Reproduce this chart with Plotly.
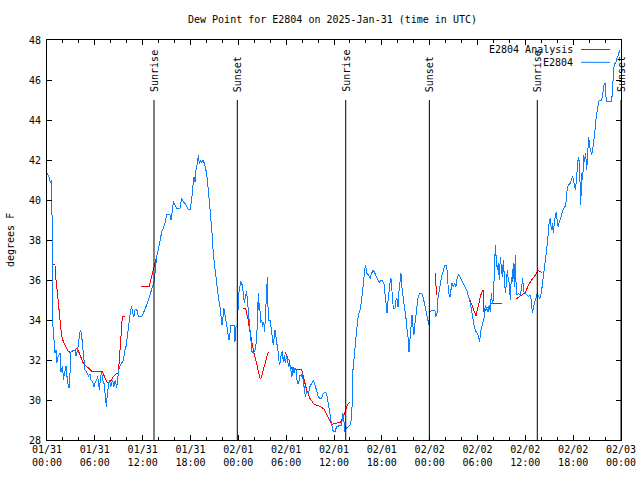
import pandas as pd
import plotly.graph_objects as go

START = pd.Timestamp("2025-01-31 00:00")
END = pd.Timestamp("2025-02-03 00:00")

# Observed dew point (E2804): hours since 01/31 00:00 UTC, degrees F
obs_hours = [0.0, 0.29, 0.46, 0.59, 0.67, 0.71, 0.88, 1.0, 1.13, 1.21, 1.42, 1.63, 1.76, 1.97, 2.05, 2.26, 2.38, 2.47,
             2.68, 2.8, 2.88, 3.01, 3.3, 3.51, 3.64, 3.72, 3.93, 4.06, 4.22, 4.35, 4.47, 4.56, 4.77, 4.98, 5.18, 5.39,
             5.52, 5.73, 5.9, 6.02, 6.23, 6.36, 6.44, 6.57, 6.73, 6.86, 6.98, 7.15, 7.32, 7.44, 7.57, 7.69, 7.82, 7.99,
             8.11, 8.24, 8.4, 8.57, 8.74, 8.86, 8.99, 9.16, 9.37, 9.58, 9.78, 9.91, 10.08, 10.2, 10.33, 10.5, 10.62,
             10.75, 10.91, 11.04, 11.25, 11.46, 11.67, 11.87, 12.08, 12.29, 12.5, 12.71, 12.92, 13.13, 13.42, 13.59,
             13.76, 13.97, 14.17, 14.38, 14.59, 14.8, 15.01, 15.22, 15.43, 15.55, 15.68, 15.85, 16.06, 16.27, 16.68,
             16.89, 17.1, 17.31, 17.52, 17.73, 17.94, 18.15, 18.27, 18.44, 18.57, 18.69, 18.86, 18.98, 19.11, 19.27,
             19.4, 19.61, 19.82, 20.03, 20.24, 20.45, 20.57, 20.74, 20.86, 21.07, 21.28, 21.49, 21.7, 21.83, 21.95,
             22.08, 22.2, 22.37, 22.54, 22.66, 22.83, 22.95, 23.08, 23.46, 23.58, 23.71, 23.88, 23.92, 24.06, 24.29,
             24.5, 24.63, 24.75, 24.92, 25.04, 25.17, 25.29, 25.46, 25.59, 25.71, 25.88, 26.09, 26.3, 26.42, 26.51,
             26.59, 26.67, 26.8, 26.93, 27.05, 27.18, 27.3, 27.43, 27.51, 27.64, 27.76, 27.97, 28.1, 28.26, 28.39,
             28.6, 28.72, 28.89, 29.02, 29.14, 29.27, 29.39, 29.52, 29.64, 29.77, 29.9, 30.06, 30.19, 30.31, 30.48,
             30.61, 30.73, 30.86, 30.98, 31.11, 31.23, 31.4, 31.57, 31.73, 31.9, 32.03, 32.15, 32.28, 32.4, 32.57,
             32.78, 32.99, 33.24, 33.41, 33.62, 33.83, 34.03, 34.24, 34.45, 34.66, 34.87, 35.08, 35.2, 35.37, 35.5,
             35.71, 35.91, 36.12, 36.33, 36.75, 36.96, 37.09, 37.21, 37.34, 37.46, 37.59, 37.8, 38.0, 38.13, 38.26,
             38.34, 38.51, 38.67, 38.84, 39.05, 39.26, 39.47, 39.6, 39.72, 39.85, 39.97, 40.1, 40.31, 40.52, 40.72,
             40.93, 41.14, 41.43, 41.68, 41.93, 42.1, 42.27, 42.4, 42.52, 42.65, 42.77, 42.9, 43.02, 43.15, 43.23,
             43.36, 43.44, 43.65, 43.77, 43.9, 44.03, 44.15, 44.28, 44.4, 44.53, 44.65, 44.78, 44.9, 45.03, 45.15,
             45.28, 45.41, 45.53, 45.66, 45.78, 45.91, 46.03, 46.16, 46.28, 46.41, 46.53, 46.7, 46.95, 47.12, 47.29,
             47.45, 47.62, 47.79, 47.91, 48.04, 48.25, 48.46, 48.67, 48.79, 48.92, 49.04, 49.17, 49.29, 49.5, 49.71,
             49.92, 50.13, 50.26, 50.38, 50.55, 50.67, 50.8, 50.97, 51.13, 51.3, 51.47, 51.64, 51.8, 52.01, 52.22,
             52.43, 52.64, 52.81, 52.97, 53.14, 53.31, 53.48, 53.64, 53.81, 53.98, 54.14, 54.27, 54.4, 54.56, 54.73,
             54.85, 54.98, 55.15, 55.32, 55.48, 55.61, 55.73, 55.86, 55.98, 56.11, 56.24, 56.36, 56.49, 56.61, 56.74,
             56.86, 56.99, 57.11, 57.24, 57.37, 57.49, 57.62, 57.74, 57.87, 57.99, 58.12, 58.24, 58.37, 58.49, 58.62,
             58.74, 58.87, 58.99, 59.16, 59.33, 59.5, 59.66, 59.79, 59.96, 60.17, 60.37, 60.58, 60.75, 60.88, 61.0,
             61.17, 61.34, 61.5, 61.67, 61.84, 62.0, 62.17, 62.34, 62.51, 62.67, 62.8, 62.89, 63.01, 63.14, 63.27,
             63.39, 63.52, 63.64, 63.77, 63.89, 64.02, 64.14, 64.27, 64.44, 64.6, 64.77, 64.98, 65.11, 65.27, 65.44,
             65.61, 65.77, 65.94, 66.11, 66.28, 66.4, 66.53, 66.65, 66.78, 66.86, 66.95, 67.07, 67.2, 67.32, 67.45,
             67.57, 67.7, 67.82, 67.95, 68.07, 68.2, 68.32, 68.45, 68.62, 68.74, 68.87, 69.04, 69.2, 69.37, 69.58,
             69.75, 69.87, 70.0, 70.08, 70.16, 70.41, 70.62, 70.83, 70.96, 71.08, 71.25, 71.38, 71.46, 71.59, 71.71,
             71.88]
obs_values = [41.33, 41.1, 40.85, 41.0, 37.5, 33.85, 33.0, 32.35, 32.5, 31.85, 32.2, 32.35, 31.4, 31.7, 31.0, 31.5, 31.7,
              31.3, 30.67, 30.6, 31.5, 32.4, 32.5, 32.5, 32.2, 32.35, 32.7, 33.25, 33.5, 33.2, 32.8, 32.2, 31.5, 31.4,
              31.2, 31.3, 31.0, 30.9, 30.67, 30.83, 31.0, 31.2, 30.83, 30.5, 31.2, 31.4, 31.0, 30.83, 30.17, 29.67,
              30.33, 30.83, 31.0, 30.67, 30.83, 31.0, 30.67, 31.0, 30.6, 31.2, 31.5, 31.7, 31.85, 32.0, 32.5, 32.67,
              33.2, 33.67, 34.1, 34.5, 34.67, 34.33, 34.17, 34.5, 34.55, 34.17, 34.17, 34.17, 34.33, 34.6, 34.75,
              35.0, 35.25, 35.5, 35.9, 36.5, 37.17, 37.5, 38.0, 38.4, 38.6, 38.83, 39.25, 39.3, 39.25, 39.0, 39.33,
              39.92, 39.75, 39.58, 39.58, 40.08, 39.92, 39.83, 39.67, 39.53, 39.5, 40.0, 40.58, 41.17, 40.92, 41.5,
              41.83, 42.25, 41.83, 42.0, 41.9, 42.0, 41.7, 41.33, 40.5, 39.67, 38.9, 38.17, 37.3, 36.5, 35.83, 35.17,
              34.67, 34.0, 33.75, 34.17, 34.58, 34.17, 33.75, 33.33, 33.0, 33.33, 33.75, 33.75, 32.92, 33.67, 33.67,
              34.17, 35.33, 35.92, 35.75, 35.33, 34.83, 35.25, 35.42, 34.83, 34.33, 33.5, 33.0, 32.42, 32.33, 32.5,
              33.0, 34.0, 35.33, 34.5, 34.83, 33.83, 34.0, 33.67, 33.92, 33.42, 34.67, 35.42, 36.17, 34.0, 34.0,
              33.67, 33.25, 32.75, 33.5, 33.0, 32.67, 32.33, 31.75, 31.92, 32.33, 32.42, 31.92, 32.25, 31.83, 32.25,
              32.0, 31.67, 31.75, 31.42, 31.17, 31.67, 31.33, 31.58, 31.5, 30.83, 30.83, 31.25, 31.17, 31.33, 31.0,
              30.5, 30.17, 30.42, 30.33, 30.67, 30.92, 31.0, 30.75, 30.5, 30.17, 30.08, 30.08, 30.33, 30.37, 30.33,
              30.0, 29.5, 29.17, 28.75, 28.42, 28.42, 28.67, 28.7, 28.75, 29.33, 29.17, 28.42, 28.67, 28.58, 28.67,
              28.75, 28.92, 29.67, 31.33, 32.17, 32.83, 33.5, 34.25, 34.5, 35.0, 35.58, 36.08, 36.5, 36.75, 36.33,
              36.25, 36.08, 36.33, 36.5, 36.33, 36.08, 35.87, 36.0, 35.95, 35.83, 35.42, 34.92, 34.33, 34.92, 35.5,
              35.83, 36.08, 35.67, 35.0, 34.58, 34.58, 35.0, 35.08, 34.67, 35.42, 35.83, 36.33, 35.58, 35.25, 34.92,
              34.58, 34.08, 33.58, 33.17, 32.42, 33.0, 34.0, 34.25, 33.67, 33.25, 33.83, 34.33, 34.67, 35.08, 35.3,
              35.33, 35.25, 34.92, 34.5, 34.25, 34.0, 33.75, 34.42, 34.47, 34.47, 34.47, 34.17, 34.33, 35.08, 35.33,
              35.67, 36.17, 36.5, 36.75, 36.75, 36.17, 35.33, 35.17, 35.5, 35.87, 35.67, 35.83, 35.67, 36.17, 36.25,
              36.17, 36.0, 35.83, 35.67, 35.5, 35.25, 35.08, 34.75, 34.33, 33.75, 33.58, 33.42, 33.33, 33.17, 32.92,
              33.42, 33.67, 33.83, 34.17, 34.75, 34.58, 34.42, 34.75, 34.42, 35.33, 34.83, 35.0, 36.33, 37.75, 37.0,
              36.5, 36.83, 36.0, 37.17, 36.42, 36.17, 37.0, 35.67, 35.33, 35.83, 36.5, 36.0, 35.83, 35.0, 36.17,
              35.92, 36.83, 35.67, 37.25, 35.33, 35.25, 35.33, 35.25, 35.5, 36.08, 35.42, 35.33, 35.25, 35.17, 35.25,
              35.0, 34.33, 34.67, 34.92, 35.08, 35.33, 35.17, 35.08, 35.33, 35.83, 36.5, 37.0, 37.5, 38.0, 38.5,
              39.0, 39.08, 38.5, 38.83, 38.33, 38.92, 39.17, 39.42, 38.83, 38.67, 38.92, 39.08, 39.33, 39.58, 39.67,
              39.92, 40.67, 40.75, 40.83, 41.0, 41.17, 40.83, 40.5, 41.0, 41.5, 42.17, 41.92, 40.67, 39.75, 41.33,
              41.0, 42.25, 41.92, 42.33, 41.5, 42.33, 43.17, 42.67, 42.33, 42.25, 42.5, 43.0, 43.5, 44.08, 44.5,
              44.92, 45.0, 45.0, 45.42, 45.75, 45.83, 45.33, 44.92, 44.92, 44.92, 44.92, 45.67, 46.58, 46.83, 46.92,
              47.08, 47.17, 47.33, 47.5]

# Analysis dew point (E2804 Analysis); None marks gaps between segments
ana_hours = [0.79, 1.0, 1.13, 1.3, 1.42, 1.55, 1.67, 1.8, 1.97, 2.26, 2.47, 2.68, 2.97, 3.3, 3.55, 3.81, 3.97, 4.14,
             4.35, 4.56, 4.77, 4.98, 5.18, 5.39, 5.6, 6.23, 6.86, 7.07, 7.27, 7.48, 7.69, 7.9, 8.11, 8.32, 8.53, 8.74,
             8.95, 9.07, 9.2, 9.32, 9.45, 9.58, 9.83, None,
             11.79, 12.29, 12.84, 12.96, 13.13, 13.34, 13.55, 13.76, None,
             24.63, 24.92, 25.04, 25.25, 25.38, 25.55, 25.71, 25.88, 26.09, 26.3, 26.51, 26.72, 26.84, 27.01, 27.22,
             27.39, 27.55, 27.76, None,
             29.85, 30.06, 30.19, 30.35, 30.48, 30.69, 30.9, 31.32, 31.86, 32.03, 32.15, 32.36, 32.57, 32.78, 32.99,
             33.2, 33.41, 33.62, 33.83, 34.03, 34.24, 34.45, 34.66, 34.87, 35.08, 35.29, 35.5, 35.71, 35.91, 36.12,
             36.33, 36.54, 36.75, 36.96, 37.09, 37.25, 37.38, 37.5, 37.67, 37.84, 37.96, None,
             48.75, 48.83, None,
             52.81, 52.97, 53.14, 53.31, 53.48, 53.64, 53.81, 53.98, 54.14, 54.31, 54.48, 54.65, 54.73, 54.81, 54.98,
             55.15, 55.36, 55.57, 55.78, 55.98, 56.4, 56.82, 57.07, None,
             58.79, 59.12, 59.54, 59.96, 60.17, 60.37, 60.58, 60.79, 61.0, 61.21, 61.42, 61.63, 62.05]
ana_values = [36.78, 36.75, 36.0, 35.5, 34.92, 34.33, 33.83, 33.33, 33.0, 32.75, 32.58, 32.42, 32.38, 32.45, 32.5,
              32.58, 32.42, 32.25, 32.0, 31.83, 31.75, 31.67, 31.58, 31.5, 31.45, 31.45, 31.45, 31.3, 31.08, 30.92,
              30.83, 30.92, 31.0, 31.17, 31.25, 31.33, 31.33, 32.17, 32.83, 33.33, 34.17, 34.2, 34.2, None,
              35.7, 35.67, 35.67, 35.92, 36.17, 36.5, 36.92, 37.2, None,
              34.58, 34.58, 34.33, 34.0, 33.58, 33.17, 32.83, 32.5, 32.17, 31.83, 31.42, 31.08, 31.08, 31.33, 31.67,
              32.0, 32.25, 32.42, None,
              32.37, 32.25, 32.08, 32.0, 31.75, 31.58, 31.55, 31.55, 31.55, 31.42, 31.17, 30.83, 30.5, 30.25, 30.08,
              29.97, 29.83, 29.78, 29.75, 29.7, 29.67, 29.62, 29.58, 29.47, 29.3, 29.08, 28.92, 28.78, 28.8, 28.82,
              28.87, 28.87, 28.88, 29.0, 29.08, 29.25, 29.42, 29.58, 29.75, 29.83, 29.87, None,
              36.37, 35.25, None,
              35.17, 35.08, 34.92, 34.75, 34.58, 34.42, 34.2, 34.5, 34.83, 35.08, 35.33, 35.47, 35.5, 34.42, 34.47,
              34.58, 34.67, 34.75, 34.83, 34.83, 34.83, 34.83, 34.83, None,
              35.03, 35.13, 35.25, 35.37, 35.53, 35.75, 35.87, 36.0, 36.13, 36.2, 36.33, 36.47, 36.38]

# Sun events (hours since 01/31 00:00 UTC)
event_labels = ["Sunrise", "Sunset", "Sunrise", "Sunset", "Sunrise", "Sunset"]
event_hours = [13.42, 23.87, 37.47, 47.96, 61.5, 72.0]

y_ticks = [28, 30, 32, 34, 36, 38, 40, 42, 44, 46, 48]

TITLE = "Dew Point for E2804 on 2025-Jan-31 (time in UTC)"
FONT = "DejaVu Sans Mono"
BLUE = "#0a80ff"
RED = "#ff0000"


def to_time(hours):
    return [None if h is None else START + pd.Timedelta(hours=h) for h in hours]


fig = go.Figure()
fig.add_trace(go.Scatter(x=to_time(ana_hours), y=ana_values, mode="lines",
                         line=dict(color=RED, width=1), name="E2804 Analysis",
                         connectgaps=False, showlegend=False))
fig.add_trace(go.Scatter(x=to_time(obs_hours), y=obs_values, mode="lines",
                         line=dict(color=BLUE, width=1), name="E2804", showlegend=False))

for lab, h in zip(event_labels, event_hours):
    t = START + pd.Timedelta(hours=h)
    fig.add_shape(type="line", xref="x", yref="y", x0=t, x1=t, y0=28, y1=45,
                  line=dict(color="black", width=1))
    fig.add_annotation(x=t, y=45, xref="x", yref="y", text=lab, textangle=-90,
                       showarrow=False, yanchor="bottom", xanchor="center", yshift=6,
                       font=dict(family=FONT, size=10, color="black"))

# legend (gnuplot style: text right-aligned, sample on the right)
legend_items = [("E2804 Analysis", RED), ("E2804", BLUE)]
for i, (name, col) in enumerate(legend_items):
    ypx = 49.5 + i * 12.8
    yp = (440 - ypx) / 400
    fig.add_annotation(x=(575 - 47) / 574, y=yp, xref="paper", yref="paper", text=name,
                       showarrow=False, xanchor="right", yanchor="middle",
                       font=dict(family=FONT, size=10, color="black"))
    fig.add_shape(type="line", xref="paper", yref="paper",
                  x0=(581 - 47) / 574, x1=(610 - 47) / 574, y0=yp, y1=yp,
                  line=dict(color=col, width=1))

fig.add_annotation(x=(10 - 47) / 574, y=0.5, xref="paper", yref="paper", text="degrees F",
                   textangle=-90, showarrow=False, xanchor="center", yanchor="middle",
                   font=dict(family=FONT, size=10, color="black"))

fig.update_layout(
    width=640, height=480,
    margin=dict(l=47, r=19, t=40, b=40, autoexpand=False),
    paper_bgcolor="white", plot_bgcolor="white",
    font=dict(family=FONT, size=10, color="black"),
    title=dict(text=TITLE, x=(332.5) / 640, xanchor="center", xref="container",
               y=1 - 19 / 480, yanchor="middle", yref="container",
               font=dict(family=FONT, size=10, color="black")),
    showlegend=False,
)
fig.update_xaxes(
    range=[START, END], type="date", automargin=False,
    tick0=START, dtick=6 * 3600 * 1000, tickformat="%m/%d<br>%H:%M",
    ticks="inside", ticklen=5, tickcolor="black", tickwidth=1,
    minor=dict(dtick=2 * 3600 * 1000, ticks="inside", ticklen=3, tickcolor="black"),
    showline=True, linecolor="black", linewidth=1, mirror="ticks",
    showgrid=False, zeroline=False,
    tickfont=dict(family=FONT, size=10, color="black"),
)
fig.update_yaxes(
    range=[28, 48], tickvals=y_ticks, ticktext=[str(v) for v in y_ticks],
    automargin=False, ticklabelstandoff=3,
    ticks="inside", ticklen=5, tickcolor="black", tickwidth=1,
    showline=True, linecolor="black", linewidth=1, mirror="ticks",
    showgrid=False, zeroline=False,
    tickfont=dict(family=FONT, size=10, color="black"),
)

fig.write_html(
    "out.html",
    config={"displayModeBar": False, "staticPlot": True},
    post_script=(
        "document.body.style.margin='0';document.body.style.overflow='hidden';"
        "document.querySelectorAll('.scatterlayer path.js-line').forEach(function(p){"
        "p.style.shapeRendering='crispEdges';});"
    ),
)
